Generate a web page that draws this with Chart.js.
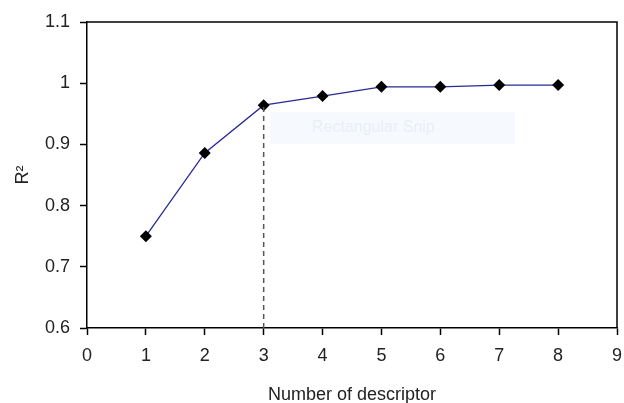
<!DOCTYPE html>
<html>
<head>
<meta charset="utf-8">
<script src="https://cdn.jsdelivr.net/npm/chart.js@4"></script>
<style>
  html, body { margin: 0; padding: 0; background: #fff; }
</style>
</head>
<body>
<canvas id="R2Chart" width="624" height="403"></canvas>
<script>
// number of descriptors vs R^2
const descriptors = [1, 2, 3, 4, 5, 6, 7, 8];
const r2 = [0.75, 0.886, 0.964, 0.979, 0.994, 0.994, 0.997, 0.997];
const cutoffX = [3, 3];
const cutoffY = [0.6, 0.964];
const xTicks = [0, 1, 2, 3, 4, 5, 6, 7, 8, 9];
const yTicks = [0.6, 0.7, 0.8, 0.9, 1.0, 1.1];

const FONT = 'Liberation Sans, Arial, sans-serif';

// frame around plot area + faint snip watermark
const framePlugin = {
  id: 'frame',
  beforeDatasetsDraw(chart) {
    const c = chart.ctx;
    c.save();
    c.fillStyle = 'rgba(235,242,250,0.45)';
    c.fillRect(270, 112, 245, 32);
    c.fillStyle = 'rgba(225,232,240,0.6)';
    c.font = '16px ' + FONT;
    c.textBaseline = 'middle';
    c.fillText('Rectangular Snip', 312, 128);
    c.restore();
  },
  afterDraw(chart) {
    const c = chart.ctx;
    const a = chart.chartArea;
    c.save();
    c.strokeStyle = '#000';
    c.lineWidth = 1.5;
    c.beginPath();
    c.moveTo(a.left, a.top);
    c.lineTo(a.right, a.top);
    c.lineTo(a.right, a.bottom);
    c.stroke();
    c.restore();
  }
};

const ctx = document.getElementById('R2Chart');

const config = {
  type: 'scatter',
  data: {
    datasets: [
      {
        label: 'cutoff',
        data: cutoffX.map((x, i) => ({ x: x, y: cutoffY[i] })),
        showLine: true,
        borderColor: '#555',
        borderWidth: 1.5,
        borderDash: [5, 4],
        pointRadius: 0
      },
      {
        label: 'R2',
        data: descriptors.map((x, i) => ({ x: x, y: r2[i] })),
        showLine: true,
        borderColor: '#2a2a95',
        borderWidth: 1.3,
        pointStyle: 'rectRot',
        pointRadius: 6,
        pointBackgroundColor: '#000',
        pointBorderColor: '#000',
        pointBorderWidth: 0
      }
    ]
  },
  options: {
    responsive: false,
    animation: false,
    layout: { autoPadding: false, padding: { left: 0, top: 22, right: 7, bottom: 0 } },
    plugins: { legend: { display: false }, tooltip: { enabled: false } },
    scales: {
      x: {
        type: 'linear',
        min: 0,
        max: 9,
        afterBuildTicks: axis => { axis.ticks = xTicks.map(v => ({ value: v })); },
        afterFit: axis => { axis.height = 75; axis.paddingLeft = 0; axis.paddingRight = 0; },
        grid: { drawOnChartArea: false, drawTicks: true, tickLength: 7, tickColor: '#000', tickWidth: 1.5 },
        border: { display: true, color: '#000', width: 1.5 },
        ticks: { color: '#222', font: { family: FONT, size: 18 }, padding: 10, maxRotation: 0 },
        title: { display: true, text: 'Number of descriptor', color: '#222', font: { family: FONT, size: 18 }, padding: { top: 16, bottom: -3 } }
      },
      y: {
        min: 0.6,
        max: 1.1,
        afterBuildTicks: axis => { axis.ticks = yTicks.map(v => ({ value: v })); },
        afterFit: axis => { axis.width = 87; axis.paddingTop = 0; axis.paddingBottom = 0; },
        grid: { drawOnChartArea: false, drawTicks: true, tickLength: 7, tickColor: '#000', tickWidth: 1.5 },
        border: { display: true, color: '#000', width: 1.5 },
        ticks: { color: '#222', font: { family: FONT, size: 18 }, padding: 10, callback: v => String(Math.round(v * 10) / 10) },
        title: { display: true, text: 'R²', color: '#222', font: { family: FONT, size: 18 }, padding: { top: 12, bottom: 0 } }
      }
    }
  },
  plugins: [framePlugin]
};

new Chart(ctx, config);
</script>
</body>
</html>
